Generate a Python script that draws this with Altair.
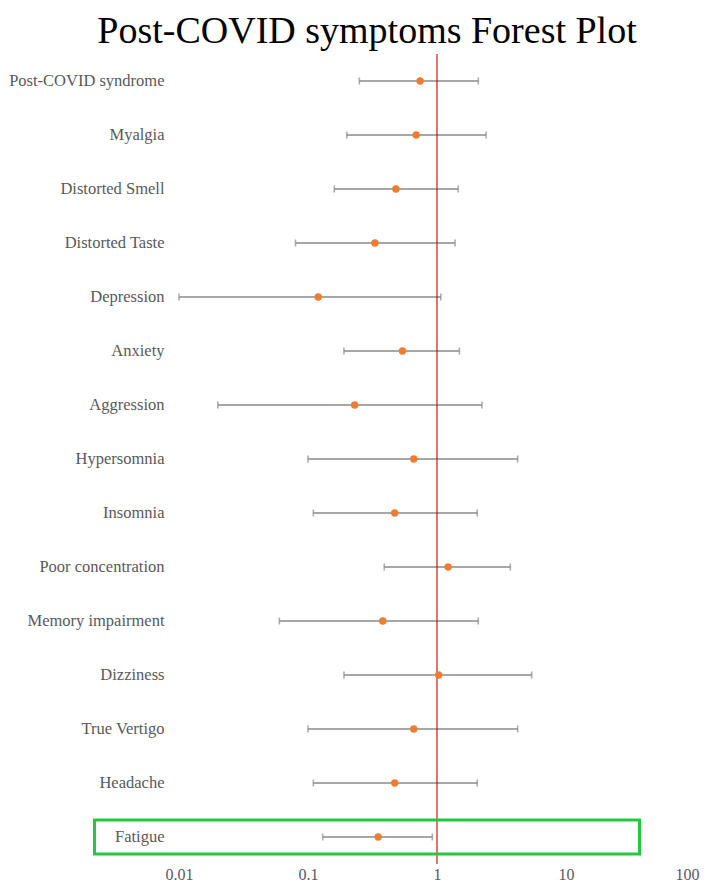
import altair as alt
import pandas as pd

symptoms = ["Post-COVID syndrome", "Myalgia", "Distorted Smell", "Distorted Taste",
            "Depression", "Anxiety", "Aggression", "Hypersomnia", "Insomnia",
            "Poor concentration", "Memory impairment", "Dizziness", "True Vertigo",
            "Headache", "Fatigue"]
estimate = [0.74, 0.69, 0.48, 0.33, 0.12, 0.54, 0.23, 0.66, 0.47, 1.22, 0.38, 1.03, 0.66, 0.47, 0.35]
lower = [0.25, 0.20, 0.16, 0.08, 0.01, 0.19, 0.02, 0.10, 0.11, 0.39, 0.06, 0.19, 0.10, 0.11, 0.13]
upper = [2.09, 2.40, 1.46, 1.38, 1.07, 1.49, 2.23, 4.22, 2.05, 3.70, 2.09, 5.42, 4.22, 2.05, 0.92]
tick_values = [0.01, 0.1, 1, 10, 100]
reference_value = [1]
highlight = ["Fatigue"]

df = pd.DataFrame({"symptom": symptoms, "est": estimate, "lo": lower, "hi": upper})
ref_df = pd.DataFrame({"ref": reference_value})
hl_df = pd.DataFrame({"symptom": highlight})

FONT = "Liberation Serif"
GRAY_TXT = "#595959"
BAR = "#8a8a8a"

xscale = alt.Scale(type="log", domain=[0.01, 100], nice=False)
xaxis = alt.Axis(values=tick_values, format="~g", title=None, grid=False, ticks=False,
                 domain=False, labelFont=FONT, labelFontSize=16, labelColor=GRAY_TXT,
                 labelPadding=2, labelFlush=False, labelOverlap=False,
                 labelAlign={"condition": {"test": "datum.value >= 100", "value": "right"},
                             "value": "center"},
                 labelOffset={"condition": {"test": "datum.value >= 100", "value": 4},
                              "value": 0})
yscale = alt.Scale(type="band", domain=symptoms, paddingInner=0, paddingOuter=0)
yaxis = alt.Axis(title=None, domain=False, ticks=False, grid=False, labelFont=FONT,
                 labelFontSize=16.5, labelColor=GRAY_TXT, labelPadding=15)

base = alt.Chart(df)

whisker = base.mark_rule(color=BAR, strokeWidth=1.6).encode(
    x=alt.X("lo:Q", scale=xscale, axis=xaxis),
    x2="hi:Q",
    y=alt.Y("symptom:N", scale=yscale, axis=yaxis, sort=symptoms),
)
cap_lo = base.mark_tick(color=BAR, thickness=1.6, size=7).encode(
    x=alt.X("lo:Q", scale=xscale, axis=xaxis),
    y=alt.Y("symptom:N", scale=yscale, axis=yaxis, sort=symptoms),
)
cap_hi = base.mark_tick(color=BAR, thickness=1.6, size=7).encode(
    x=alt.X("hi:Q", scale=xscale, axis=xaxis),
    y=alt.Y("symptom:N", scale=yscale, axis=yaxis, sort=symptoms),
)
ref_line = alt.Chart(ref_df).mark_rule(color="#cc0000", strokeWidth=1.1).encode(
    x=alt.X("ref:Q", scale=xscale, axis=xaxis),
)
points = base.mark_circle(color="#ED7D31", opacity=1, size=55).encode(
    x=alt.X("est:Q", scale=xscale, axis=xaxis),
    y=alt.Y("symptom:N", scale=yscale, axis=yaxis, sort=symptoms),
)
box = alt.Chart(hl_df).mark_rect(fill=None, stroke="#22c93f", strokeWidth=3, height=34).encode(
    x=alt.value(-84.5),
    x2=alt.value(460.5),
    y=alt.Y("symptom:N", scale=yscale, axis=yaxis, sort=symptoms),
)

chart = alt.layer(whisker, cap_lo, cap_hi, ref_line, points, box).properties(
    width=516,
    height=810,
    background="white",
    title=alt.TitleParams("Post-COVID symptoms Forest Plot", font=FONT, fontSize=38,
                          fontWeight="normal", color="black", anchor="middle",
                          dx=-70, dy=45, baseline="alphabetic", offset=17),
    autosize=alt.AutoSizeParams(type="none"),
    padding={"left": 171, "top": 46, "right": 5, "bottom": 18},
).configure_view(stroke=None)

chart.save("out.html", embed_options={"renderer": "svg", "actions": False})
